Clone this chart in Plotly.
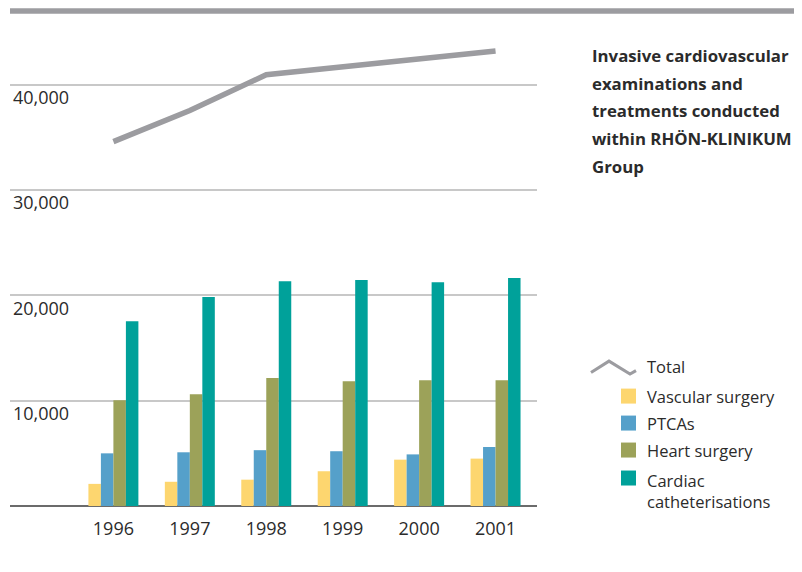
import plotly.graph_objects as go

years = [1996, 1997, 1998, 1999, 2000, 2001]
year_labels = ["1996", "1997", "1998", "1999", "2000", "2001"]
vascular = [2100, 2300, 2500, 3300, 4400, 4500]
ptcas = [5000, 5100, 5300, 5200, 4900, 5600]
heart = [10050, 10600, 12150, 11850, 11950, 11950]
cath = [17550, 19850, 21350, 21450, 21250, 21650]
total = [34600, 37550, 40950, 41700, 42450, 43200]
y_ticks = [10000, 20000, 30000, 40000]
y_tick_labels = ["10,000", "20,000", "30,000", "40,000"]

title_lines = ["Invasive cardiovascular", "examinations and",
               "treatments conducted", "within RHÖN-KLINIKUM", "Group"]
legend_names = ["Total", "Vascular surgery", "PTCAs", "Heart surgery",
                "Cardiac<br>catheterisations"]

C_YEL = "#FDD66F"
C_BLU = "#55A0CA"
C_OLI = "#9CA259"
C_TEA = "#00A19A"
C_GRY = "#9C9CA0"
TXT = "#2b2b2b"
FONT = "Open Sans"

OFF = 8  # page body margin
W, H = 802 - OFF, 572 - OFF
L, R, T, B = 10 - OFF, 265, 10.6 - OFF, 66
PW, PH = W - L - R, H - T - B


def px(x):
    return (x - OFF - L) / PW


def py(y):
    return 1 - (y - OFF - T) / PH


fig = go.Figure()
for name, vals, col in [("Vascular surgery", vascular, C_YEL), ("PTCAs", ptcas, C_BLU),
                        ("Heart surgery", heart, C_OLI),
                        ("Cardiac catheterisations", cath, C_TEA)]:
    fig.add_trace(go.Bar(x=years, y=vals, name=name, marker=dict(color=col, line=dict(width=0)),
                         showlegend=False))
fig.add_trace(go.Scatter(x=years, y=total, mode="lines", name="Total",
                         line=dict(color=C_GRY, width=5.5), showlegend=False))

shapes = []
annotations = []
# top decorative bar
shapes.append(dict(type="line", xref="paper", yref="paper", x0=0, x1=px(802), y0=1, y1=1,
                   line=dict(color=C_GRY, width=5.5)))

# title lines
for i, line in enumerate(title_lines):
    annotations.append(dict(text="<b>" + line + "</b>", xref="paper", yref="paper",
                            x=px(590), y=py(55 + i * 27.7), xanchor="left", yanchor="middle",
                            showarrow=False, font=dict(family=FONT, size=16.8, color=TXT)))

# legend: total line symbol
shapes.append(dict(type="path", xref="paper", yref="paper",
                   path="M %f,%f L %f,%f L %f,%f L %f,%f" % (px(591), py(372.5), px(609), py(361),
                                                             px(630), py(374), px(636), py(370.5)),
                   line=dict(color=C_GRY, width=3)))
legend_y = [366, 396, 423, 450, 478]
for name, yy in zip(legend_names, legend_y):
    ya = "middle"
    yv = yy
    if "<br>" in name:
        ya = "top"
        yv = yy - 11.5
    annotations.append(dict(text=name, xref="paper", yref="paper", x=px(645), y=py(yv),
                            xanchor="left", yanchor=ya, showarrow=False, align="left",
                            font=dict(family=FONT, size=16.5, color=TXT)))
for col, yy in zip([C_YEL, C_BLU, C_OLI, C_TEA], legend_y[1:]):
    shapes.append(dict(type="rect", xref="paper", yref="paper", x0=px(621), x1=px(636),
                       y0=py(yy - 7.5), y1=py(yy + 7.5), fillcolor=col, line=dict(width=0)))

x0 = 1996 - 103.4 / 76.43
x1 = 1996 + 423.6 / 76.43
fig.update_layout(
    width=W, height=H,
    margin=dict(l=L, r=R, t=T, b=B),
    paper_bgcolor="white", plot_bgcolor="white",
    barmode="group", bargap=0.346, bargroupgap=0,
    shapes=shapes, annotations=annotations,
    font=dict(family=FONT, color=TXT),
    xaxis=dict(range=[x0, x1], tickvals=years, ticktext=year_labels, showgrid=False,
               showline=False, zeroline=False, ticks="outside", ticklen=6, tickcolor="white",
               tickfont=dict(family=FONT, size=18, color=TXT)),
    yaxis=dict(range=[0, 47000], tickvals=y_ticks, ticktext=y_tick_labels, showgrid=True,
               gridcolor="#c8c8c8", gridwidth=1.5, zeroline=True, zerolinecolor="#6b6b6b",
               zerolinewidth=2, showline=False, ticks="", ticklabelposition="inside",
               ticklabelshift=13, tickfont=dict(family=FONT, size=18, color=TXT)),
)

fig.write_html("out.html")
